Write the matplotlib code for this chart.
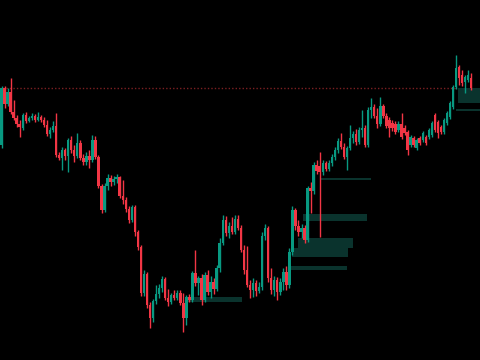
import numpy as np
import matplotlib
matplotlib.use("Agg")
import matplotlib.pyplot as plt


# candle prices (arbitrary price units)
opens = [215, 272, 256, 268, 248, 242, 236, 232, 245, 239, 242, 244, 240, 243, 240, 235, 226, 230, 234, 205,
         202, 210, 204, 220, 210, 204, 217, 202, 198, 204, 200, 220, 203, 174, 150, 174, 182, 178, 181, 183,
         164, 160, 151, 140, 153, 128, 113, 67, 86, 55, 42, 59, 66, 72, 81, 62, 58, 65, 62, 67,
         57, 42, 63, 60, 87, 77, 82, 60, 85, 68, 78, 71, 92, 117, 140, 127, 134, 128, 141, 132,
         110, 90, 75, 70, 77, 69, 73, 124, 132, 82, 70, 80, 68, 78, 88, 75, 108, 150, 134, 128,
         132, 120, 172, 169, 195, 194, 188, 197, 191, 197, 203, 210, 219, 213, 203, 212, 222, 226, 218, 230,
         232, 215, 250, 253, 244, 236, 254, 244, 240, 237, 236, 230, 236, 232, 228, 215, 222, 212, 222, 220,
         223, 223, 225, 245, 238, 233, 228, 237, 243, 253, 273, 293, 285, 278, 280, 282]
closes = [272, 256, 268, 248, 242, 236, 233, 245, 239, 242, 244, 240, 243, 240, 235, 226, 230, 234, 205, 202,
          210, 204, 220, 210, 204, 217, 202, 198, 204, 200, 220, 203, 174, 150, 174, 182, 178, 181, 183, 164,
          160, 151, 140, 153, 128, 113, 67, 86, 55, 42, 59, 66, 72, 81, 62, 58, 65, 62, 67, 57,
          42, 63, 60, 87, 77, 82, 60, 85, 68, 78, 71, 92, 117, 140, 127, 134, 128, 141, 132, 110,
          90, 75, 70, 77, 69, 73, 124, 132, 82, 70, 80, 68, 78, 88, 75, 108, 150, 134, 128, 132,
          120, 172, 169, 195, 189, 188, 197, 191, 197, 203, 210, 219, 213, 203, 212, 222, 226, 218, 230, 232,
          215, 250, 253, 244, 236, 254, 244, 234, 232, 232, 228, 236, 223, 227, 210, 223, 215, 220, 217, 227,
          217, 230, 237, 230, 227, 228, 240, 247, 257, 273, 292, 282, 277, 283, 285, 272]
highs = [274, 274, 272, 282, 260, 245, 240, 247, 248, 244, 247, 246, 248, 245, 243, 240, 233, 239, 247, 208,
         213, 212, 222, 224, 215, 227, 220, 206, 208, 210, 225, 224, 205, 176, 177, 186, 185, 184, 186, 184,
         180, 163, 154, 155, 155, 130, 115, 90, 88, 58, 61, 75, 76, 84, 83, 71, 67, 70, 70, 70,
         67, 65, 66, 89, 110, 84, 86, 88, 90, 84, 82, 95, 122, 145, 144, 138, 143, 145, 145, 135,
         115, 114, 80, 82, 80, 78, 128, 136, 134, 92, 84, 83, 82, 92, 94, 112, 154, 152, 140, 136,
         135, 174, 178, 198, 200, 208, 200, 199, 200, 206, 213, 222, 227, 217, 214, 235, 229, 231, 233, 250,
         235, 253, 262, 256, 252, 263, 256, 247, 243, 240, 239, 239, 247, 235, 230, 225, 224, 222, 224, 229,
         225, 232, 239, 247, 240, 235, 242, 249, 259, 275, 305, 295, 290, 285, 290, 287]
lows = [212, 252, 254, 246, 240, 233, 223, 230, 237, 238, 240, 238, 239, 238, 233, 224, 222, 228, 203, 200,
        190, 200, 188, 207, 198, 202, 200, 195, 195, 192, 198, 201, 172, 147, 148, 170, 174, 175, 177, 162,
        156, 148, 137, 138, 124, 110, 64, 64, 52, 32, 38, 56, 62, 68, 60, 54, 56, 60, 60, 55,
        28, 35, 58, 58, 74, 65, 55, 58, 65, 62, 66, 69, 88, 115, 124, 122, 126, 126, 130, 108,
        86, 73, 62, 63, 64, 67, 70, 120, 78, 66, 64, 60, 65, 70, 70, 72, 105, 130, 124, 122,
        117, 118, 147, 166, 186, 123, 185, 189, 189, 194, 200, 207, 211, 201, 190, 210, 217, 215, 216, 223,
        213, 213, 242, 242, 232, 234, 242, 232, 223, 229, 226, 228, 221, 225, 205, 213, 213, 210, 215, 218,
        215, 221, 223, 228, 222, 226, 226, 235, 241, 251, 271, 275, 274, 267, 278, 270]

# order-block zones (candle index range, price range)
zone_left = [150.5, 150, 105, 99.5, 98, 96, 95, 60.5]
zone_right = [158, 158, 122, 120.5, 116, 114.5, 114, 79.5]
zone_top = [272, 251, 182, 146, 122, 112, 94, 63]
zone_bottom = [257, 249, 180, 139, 112, 103, 90, 58]

# dotted resistance line
level = 272
level_end = 150

o = np.array(opens)
c = np.array(closes)
h = np.array(highs)
l = np.array(lows)
idx = np.arange(len(o))
up = c >= o

green = '#089981'
red = '#f23645'
cols = np.where(up, green, red)

fig = plt.figure(figsize=(4.8, 3.6), dpi=100, facecolor='black')
ax = fig.add_axes([0, 0, 1, 1])
ax.set_facecolor('black')

for x0, x1, top, bot in zip(zone_left, zone_right, zone_top, zone_bottom):
    ax.bar(x0, top - bot, width=x1 - x0, bottom=bot, align='edge',
           color='#0a332d', edgecolor='none', zorder=1)

ax.hlines(level, -1, level_end, colors='#7c1f22', linestyles=(0, (1, 1.5)), lw=1, zorder=2)

ax.vlines(idx, l, h, colors=cols, lw=1, zorder=3)
body = np.where(np.abs(c - o) < 1, 1, c - o)
ax.bar(idx, body, bottom=o, width=0.8, color=cols, edgecolor='none', zorder=4)

ax.set_xlim(-0.5, 157.9)
ax.set_ylim(0, 360)
ax.axis('off')

fig.savefig('out.png', dpi=100, facecolor='black')
